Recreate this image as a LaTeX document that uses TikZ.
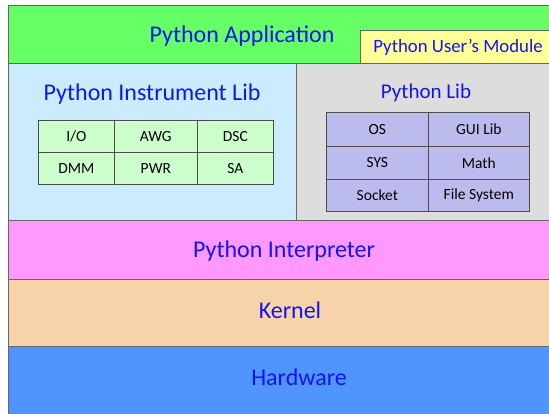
\documentclass[tikz,border=0pt]{standalone}
\usepackage{fontspec}
\setmainfont{Carlito}
\usetikzlibrary{positioning}

\definecolor{appgreen}{HTML}{66FF66}
\definecolor{usryellow}{HTML}{FFFF99}
\definecolor{instblue}{HTML}{CCEBFF}
\definecolor{libgray}{HTML}{DDDDDD}
\definecolor{cellgreen}{HTML}{CCFFCC}
\definecolor{cellviolet}{HTML}{BBBBEE}
\definecolor{interppink}{HTML}{FF99FF}
\definecolor{kernelpeach}{HTML}{F6D3A8}
\definecolor{hwblue}{HTML}{4F94FF}
\definecolor{txtblue}{HTML}{1414F0}

\begin{document}
\begin{tikzpicture}[
  x=1pt, y=-1pt,
  panel/.style = {
    draw=black!60,
    line width=0.7pt,
    shape=rectangle,
    anchor=north west,
    inner sep=0pt
  },
  title/.style = {
    text=txtblue,
    font=\fontsize{24}{28}\selectfont
  },
  cell/.style = {
    draw=black!70,
    line width=0.7pt,
    shape=rectangle,
    anchor=north west,
    inner sep=0pt
  },
  celltext/.style = {
    font=\fontsize{15.5}{18}\selectfont
  },
]
  \clip (0,0) rectangle (549,413);

  % layers
  \node (app)[panel, fill=appgreen, minimum width=545pt, minimum height=58pt] at (8,5) {};
  \node (usr)[panel, fill=usryellow, minimum width=195pt, minimum height=33pt] at (360,30) {};
  \node (inst)[panel, fill=instblue, minimum width=288pt, minimum height=157pt] at (8,63) {};
  \node (lib)[panel, fill=libgray, minimum width=257pt, minimum height=157pt] at (296,63) {};
  \node (interp)[panel, fill=interppink, minimum width=545pt, minimum height=59pt] at (8,220) {};
  \node (kernel)[panel, fill=kernelpeach, minimum width=545pt, minimum height=67pt] at (8,279) {};
  \node (hw)[panel, fill=hwblue, minimum width=545pt, minimum height=75pt] at (8,346) {};

  % labels
  \node (tapp)[title] at (242,36) {Python Application};
  \node (tusr)[title, font=\fontsize{18.8}{22}\selectfont] at (458,47) {Python User's Module};
  \node (tinst)[title] at (152,94) {Python Instrument Lib};
  \node (tlib)[title, font=\fontsize{21}{25}\selectfont] at (426,93) {Python Lib};
  \node (tinterp)[title] at (284,251) {Python Interpreter};
  \node (tkernel)[title] at (290,310) {Kernel};
  \node (thw)[title] at (299,377) {Hardware};

  % instrument modules
  \node (io)[cell, fill=cellgreen, minimum width=76pt, minimum height=32pt] at (38,120) {};
  \node (awg)[cell, fill=cellgreen, minimum width=83pt, minimum height=32pt] at (114,120) {};
  \node (dsc)[cell, fill=cellgreen, minimum width=76pt, minimum height=32pt] at (197,120) {};
  \node (dmm)[cell, fill=cellgreen, minimum width=76pt, minimum height=32pt] at (38,152) {};
  \node (pwr)[cell, fill=cellgreen, minimum width=83pt, minimum height=32pt] at (114,152) {};
  \node (sa)[cell, fill=cellgreen, minimum width=76pt, minimum height=32pt] at (197,152) {};
  \node[celltext] at (io.center) {I/O};
  \node[celltext] at (awg.center) {AWG};
  \node[celltext] at (dsc.center) {DSC};
  \node[celltext] at (dmm.center) {DMM};
  \node[celltext] at (pwr.center) {PWR};
  \node[celltext] at (sa.center) {SA};

  % python modules
  \node (os)[cell, fill=cellviolet, minimum width=102pt, minimum height=34pt] at (326,112) {};
  \node (gui)[cell, fill=cellviolet, minimum width=101pt, minimum height=34pt] at (428,112) {};
  \node (sys)[cell, fill=cellviolet, minimum width=102pt, minimum height=33pt] at (326,146) {};
  \node (math)[cell, fill=cellviolet, minimum width=101pt, minimum height=33pt] at (428,146) {};
  \node (socket)[cell, fill=cellviolet, minimum width=102pt, minimum height=32pt] at (326,179) {};
  \node (fs)[cell, fill=cellviolet, minimum width=101pt, minimum height=32pt] at (428,179) {};
  \node[celltext] at (os.center) {OS};
  \node[celltext] at (gui.center) {GUI Lib};
  \node[celltext] at (sys.center) {SYS};
  \node[celltext] at (math.center) {Math};
  \node[celltext] at (socket.center) {Socket};
  \node[celltext] at (fs.center) {File System};
\end{tikzpicture}
\end{document}
